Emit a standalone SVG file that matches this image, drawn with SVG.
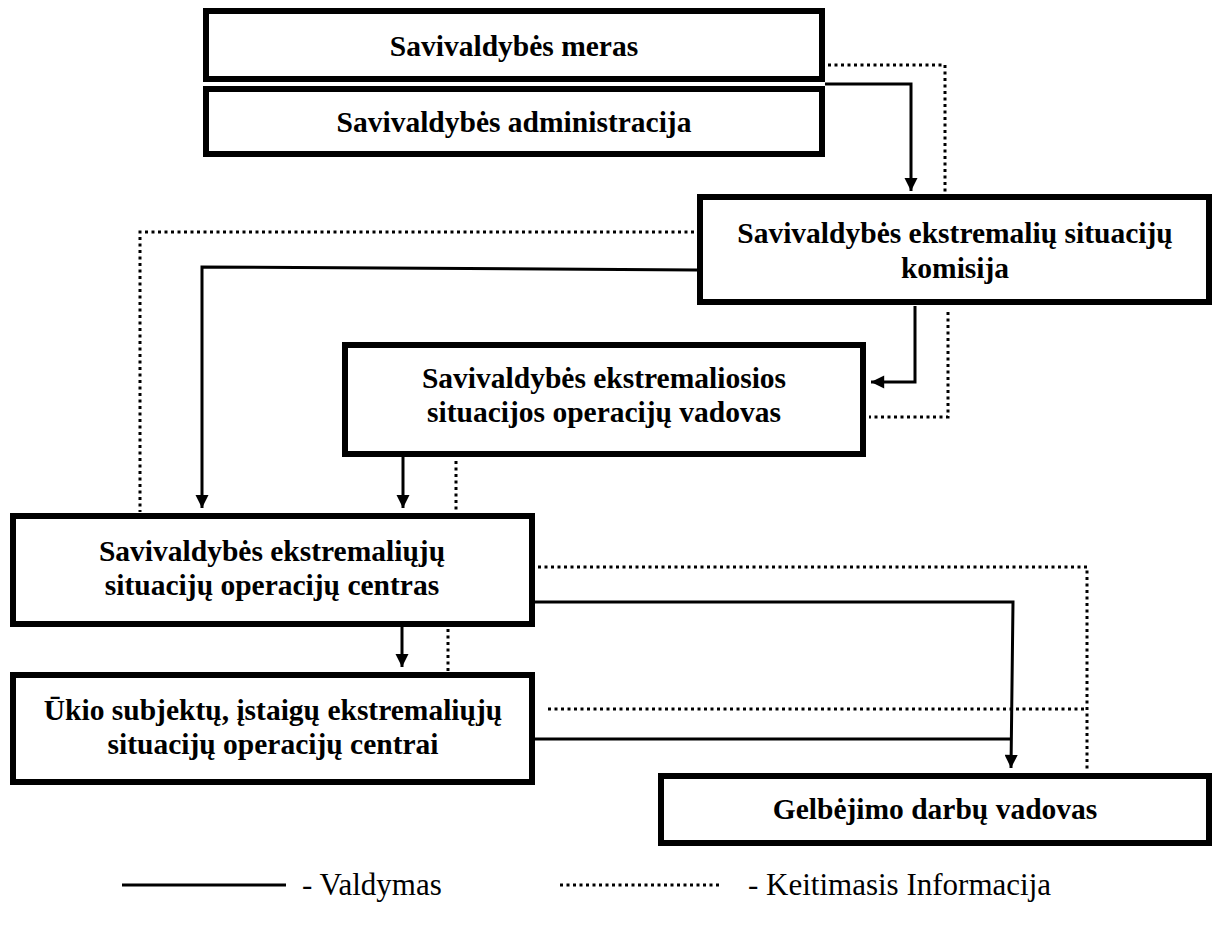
<svg xmlns="http://www.w3.org/2000/svg" width="1226" height="928" viewBox="0 0 1226 928">
<defs>
<style>
.box{fill:#fff;stroke:#000;stroke-width:6}
.t{font-weight:bold;font-size:29.5px;text-anchor:middle;fill:#000}
.lt{font-size:31px;fill:#000}
.s{fill:none;stroke:#000;stroke-width:3}
.d{fill:none;stroke:#000;stroke-width:3;stroke-dasharray:3 3.5}
</style>
<marker id="ah" viewBox="0 0 10 10" refX="10" refY="5" markerWidth="4.6" markerHeight="4.4" orient="auto" markerUnits="strokeWidth">
<path d="M0,0 L10,5 L0,10 z" fill="#000"/>
</marker>
</defs>
<rect width="1226" height="928" fill="#fff"/>
<g id="connectors">
<polyline class="s" points="825,84 911,84 911,191" marker-end="url(#ah)"/>
<polyline class="d" points="828,65 945,65 945,194"/>
<polyline class="d" points="694,232 140,232 140,512"/>
<polyline class="s" points="697,270 202,267 202,508" marker-end="url(#ah)"/>
<polyline class="s" points="915,306 915,382 871,382" marker-end="url(#ah)"/>
<polyline class="d" points="948,312 948,417 869,417"/>
<polyline class="s" points="403,457 403,508" marker-end="url(#ah)"/>
<polyline class="d" points="456,461 456,512"/>
<polyline class="d" points="538,567 1087,567 1087,772"/>
<polyline class="s" points="535,602 1013,602 1011,768" marker-end="url(#ah)"/>
<polyline class="s" points="402,627 402,667" marker-end="url(#ah)"/>
<polyline class="d" points="448,629 448,672"/>
<polyline class="d" points="548,709 1087,709"/>
<polyline class="s" points="535,739 1011,739"/>
</g>
<g font-family="'Liberation Serif', 'DejaVu Serif', serif">
<g id="meras"><rect class="box" x="206" y="11" width="616" height="68"/><text class="t" x="514" y="56">Savivaldybės meras</text></g>
<g id="administracija"><rect class="box" x="206" y="89" width="616" height="65"/><text class="t" x="514" y="132">Savivaldybės administracija</text></g>
<g id="komisija"><rect class="box" x="700" y="197" width="509" height="105"/><text class="t" x="955" y="243">Savivaldybės ekstremalių situacijų</text><text class="t" x="955" y="278">komisija</text></g>
<g id="vadovas"><rect class="box" x="345" y="345" width="518" height="109"/><text class="t" x="604" y="388">Savivaldybės ekstremaliosios</text><text class="t" x="604" y="422">situacijos operacijų vadovas</text></g>
<g id="centras"><rect class="box" x="13" y="516" width="519" height="108"/><text class="t" x="272" y="561">Savivaldybės ekstremaliųjų</text><text class="t" x="272" y="595">situacijų operacijų centras</text></g>
<g id="ukio"><rect class="box" x="13" y="675" width="519" height="107"/><text class="t" x="273" y="720">Ūkio subjektų, įstaigų ekstremaliųjų</text><text class="t" x="273" y="754">situacijų operacijų centrai</text></g>
<g id="gelbejimo"><rect class="box" x="661" y="776" width="548" height="67"/><text class="t" x="935" y="819">Gelbėjimo darbų vadovas</text></g>
<g id="legend">
<line x1="122" y1="885" x2="286" y2="885" stroke="#000" stroke-width="3"/>
<text class="lt" x="302" y="895">- Valdymas</text>
<line x1="560" y1="885" x2="720" y2="885" stroke="#000" stroke-width="3" stroke-dasharray="3 3.5"/>
<text class="lt" x="748" y="895">- Keitimasis Informacija</text>
</g>
</g>
</svg>
